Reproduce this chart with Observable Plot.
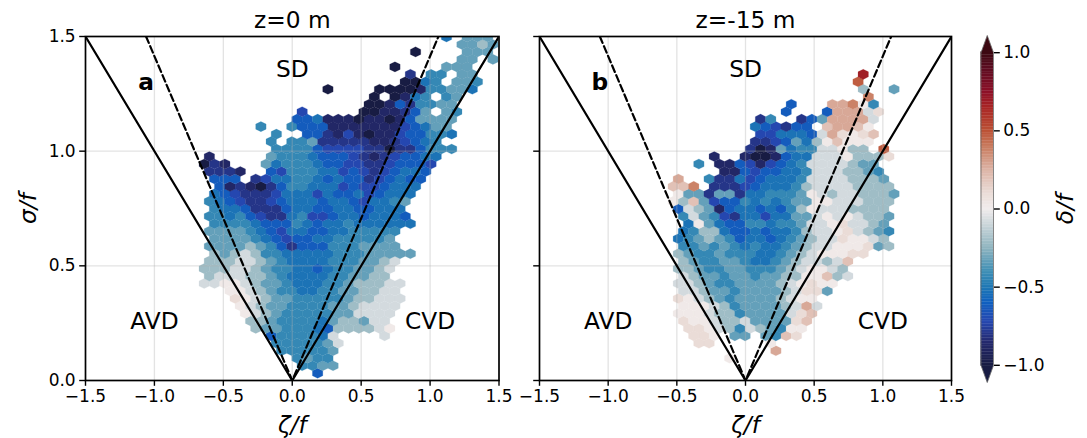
<!DOCTYPE html>
<html>
<head>
<meta charset="utf-8">
<script src="https://cdn.jsdelivr.net/npm/d3@7"></script>
<script src="https://cdn.jsdelivr.net/npm/@observablehq/plot@0.6"></script>
<style>
html,body{margin:0;padding:0;background:#fff;}
#chart{position:relative;width:1087px;height:438px;overflow:hidden;}
#chart svg{position:absolute;top:0;}
</style>
</head>
<body>
<div id="chart"></div>
<script>
// Hexbin cell readings. One string per row of the hex lattice, bottom to top; each letter is a δ/f level.
const surfaceRows = [
"............E",
"..........GGHH",
"..........GHGG",
"........GGGGGH",
"........GGGGGHJ",
".......EGGGGFJ....J",
"......IHHGGGFEIIIIJK",
".....IIHGGGGFHIIHJJ",
".....KJIHGGGGGHHJJJJ",
"....KJIHHGGGGHHIJJJJ",
"....LKJIHHGGGGGHIIJJJ",
"...KKJIHGGFFGGHHIIJJ",
".JJKKJIHHGFFFGGHIIIJJ",
".IJJJIIHGFFFFGGHHII",
".IIIJJIHGGFFEFGGHHIJ",
".IIIJJIHGFFFFGGGHHIJ",
"..IHIJIGGFFFFFGGGHHHHH",
".HHHHIHGECEEEGGGHHHH",
"..HHHHGFEDEEFFGGGGGH",
".HHHHGFEDFFEEFFGGGGG",
"..GGGGFEEEGFEFFGFFFFFF",
".GGFGEDCCFGDDEFFEFFFE",
"..GFFECCCEFFEEFFEEFFF",
".GFEDCCDEFFFEFFEDFFGH",
"..FEDCCCDFFFDFEEFDEFFF",
"..EBCBACEGGFFFDEDDEFFF",
"..EEE.CDFFGGFEFEECDEFEE",
".CCCB..EDGGGFFDEDCDEFFE",
".ACB...HFGGGFEEDDCCDEEED",
".B.....HGGGFEEEDCBCDEEFF",
"........GGGGEDDDDCCACCEGGG",
".......G.GGHCCCCCBBCDEFG",
"........G..EECBDBABBDEEGGF",
"......G..GEEEBBBBBBBDEFHH",
"..........EEFBBBABBABEHHHH",
"..........D.....AABBCEH.HG",
".................AABECGGHH",
".................A.ABFG.GH",
".............A....AAAABGGHHF",
"....................AAFG.HHG",
".....................C.GG.HH",
"...................A....HHH",
"..........................HH.H",
".....................A....HHH",
"..........................HHIH",
"........................F.HHH"
];
const deepRows = [
"",
"",
"........K",
"............N",
".....LL.....K",
"....LLK.HH.HGML",
"....LLKJIGJIHGKK",
"...LKKJIIJHHHHLM",
"...KKKJIIGHHHHJLM",
"...KKKJIGHHHHIJNJ",
"...LKJIHGHHHHIJKK",
"...JJIHHGHHHHIJLLH",
"...JJIHGGHHHHIJKLKK",
"...JIHHGHHGHHIIKKMIJ",
"...IIHGGHHGGGHIJKKJI",
"...IHGGHHGFFGHIJJIJM",
"...IHGGHGGGFFGHIJKKKLL",
"...GGHGHGFGFFGHIJJKKKLHI",
"...FGHIHGEFFEFGHIJJLKKJI",
"...FGIIFEEFEFFGIJJKLJIHG",
"....FKHFEEGGFGGHJJKLJJIH",
"...GJHGDCFFDFFHHJKJKJIIH",
"...EJIHBEFFEFEGIKJJJIIII",
"..KIMHDEEGFGFGHHKKJJJIII",
"...KHHCHHCFFGGGHKJIJJIIIH",
"..MMO.CCCDEFFFGIJJJJIIII",
"...N..GCCFDEFFFGJJJJIIIH",
".......BBEDEEFFGJJJIIHG",
".....G.BBEDBDEFGJJJJIHH",
"......B..BAABEFFJJJKIIIL",
"..........CABHFGGJJKII.P",
"..........CCDEHFIKMKKK",
"...........DDFFFEJNLKLM",
"..........FEDCEE.MNNMK",
"...........CG..CEHNNNNJ",
".............E...ENNNJL",
"..............E...NNOKG",
".....................O",
".....................I..H",
"....................P",
".....................R"
];
const levelCodes = "ABCDEFGHIJKLMNOPQR";
const levelValues = [-1,-.88,-.8,-.72,-.62,-.52,-.43,-.33,-.21,-.08,.02,.1,.2,.28,.38,.47,.58,.68];
const colorStops = [-1,-.85,-.72,-.6,-.5,-.4,-.25,-.1,0,.1,.25,.4,.5,.65,.75,.9,1];
const colorHexes = ["#181c43","#252a6f","#2547b0","#1060c0","#1f78b4","#3f8fb5","#8fb4bf","#cbd6da","#f1ecec","#eadcd7","#dcb3a5","#c87a5d","#bb5135","#a82424","#8c1028","#5c0c20","#3c0912"];
const axisTicks = [-1.5,-1,-.5,0,.5,1,1.5];
const sigmaTicks = [0,.5,1,1.5];
const barTicks = [-1,-.5,0,.5,1];
const barSteps = d3.range(-1,1.0001,.01);
const strainLine = [[-1.5,1.5],[0,0],[1.5,1.5]];
const okuboLine = [[-1.0607,1.5],[0,0],[1.0607,1.5]];
const regionLabels = [
  {t:"SD",x:0,y:1.355},{t:"AVD",x:-1,y:.255},{t:"CVD",x:1,y:.255}
];
// hex lattice in data units
const latticeZeta = .184, stepZeta = .0748, latticeSigma = .0318, stepSigma = .03258, centerColumn = 12;

function cells(rows){
  const out=[];
  rows.forEach((row,j)=>{
    [...row].forEach((ch,p)=>{
      const k=levelCodes.indexOf(ch);
      if(k<0) return;
      out.push({
        zeta: latticeZeta+stepZeta*(p-centerColumn+(j%2?.5:0)),
        sigma: latticeSigma+stepSigma*j,
        delta: levelValues[k]
      });
    });
  });
  return out;
}
const hexSymbol={draw(c){const w=5.2,h=5.05;c.moveTo(0,-h);c.lineTo(w,-h/2);c.lineTo(w,h/2);c.lineTo(0,h);c.lineTo(-w,h/2);c.lineTo(-w,-h/2);c.closePath();}};
const colorScale={type:"linear",domain:colorStops,range:colorHexes,clamp:true};
const font="'DejaVu Sans'";
const fmt=d=>d3.format(".1f")(d);

function panel({rows,title,letter,left,width,ml,mr,yLabels}){
  const marks=[
    Plot.dot(cells(rows),{x:"zeta",y:"sigma",fill:"delta",stroke:"delta",strokeWidth:.2,symbol:hexSymbol,clip:true}),
    Plot.ruleX(axisTicks.slice(1,-1),{stroke:"#b0b0b0",strokeOpacity:.35,strokeWidth:1.3}),
    Plot.ruleY(sigmaTicks.slice(1,-1),{stroke:"#b0b0b0",strokeOpacity:.35,strokeWidth:1.3}),
    Plot.line(strainLine,{stroke:"#000",strokeWidth:2.2,clip:true}),
    Plot.line(okuboLine,{stroke:"#000",strokeWidth:2.2,strokeDasharray:"7,3.5",clip:true}),
    Plot.text(regionLabels,{x:"x",y:"y",text:"t",fontSize:23.3,fill:"#000"}),
    Plot.text([letter],{x:[-1.06],y:[1.3],text:d=>d,fontSize:23.3,fontWeight:"bold",fill:"#000"}),
    Plot.text([title],{frameAnchor:"top",dy:-16,lineAnchor:"middle",text:d=>d,fontSize:23.3,fill:"#000"}),
    Plot.text(["ζ/f"],{frameAnchor:"bottom",dy:45,lineAnchor:"middle",text:d=>d,fontSize:23.3,fontStyle:"italic",fill:"#000"}),
    Plot.axisX({ticks:axisTicks,tickFormat:fmt,tickSize:5.8,tickPadding:4,strokeWidth:1.4,fontSize:17,label:null,color:"#000"}),
    Plot.axisY({ticks:sigmaTicks,tickFormat:yLabels?fmt:()=>"",tickSize:5.8,tickPadding:4,strokeWidth:1.4,fontSize:17,label:null,color:"#000"}),
    Plot.frame({stroke:"#000",strokeWidth:1.7})
  ];
  if(yLabels) marks.push(Plot.text(["σ/f"],{frameAnchor:"left",dx:-57,rotate:-90,textAnchor:"middle",lineAnchor:"middle",text:d=>d,fontSize:23.3,fontStyle:"italic",fill:"#000"}));
  const svg=Plot.plot({
    width,height:438,marginLeft:ml,marginRight:mr,marginTop:36,marginBottom:58,
    x:{domain:[-1.5,1.5]},y:{domain:[0,1.5]},color:colorScale,
    style:{fontFamily:font,fontSize:"14px",background:"transparent",overflow:"visible"},
    marks
  });
  svg.style.left=left+"px";
  return svg;
}

const chart=document.getElementById("chart");
chart.append(panel({rows:surfaceRows,title:"z=0 m",letter:"a",left:0,width:520,ml:85,mr:21.5,yLabels:true}));
chart.append(panel({rows:deepRows,title:"z=-15 m",letter:"b",left:520,width:450,ml:19,mr:19,yLabels:false}));

const bar=Plot.plot({
  width:117,height:438,marginLeft:10.5,marginRight:94,marginTop:35,marginBottom:56,
  x:{domain:[0,1],axis:null},y:{domain:[-1.11,1.11]},color:colorScale,
  style:{fontFamily:font,fontSize:"14px",background:"transparent",overflow:"visible"},
  marks:[
    Plot.rect(barSteps,{x1:0,x2:1,y1:d=>d-.006,y2:d=>d+.006,fill:d=>d}),
    Plot.line([[0,1],[.5,1.11],[1,1]],{fill:colorHexes[16],stroke:"none"}),
    Plot.line([[0,-1],[.5,-1.11],[1,-1]],{fill:colorHexes[0],stroke:"none"}),
    Plot.line([[0,1],[.5,1.11],[1,1],[1,-1],[.5,-1.11],[0,-1],[0,1]],{stroke:"#666",strokeWidth:.8}),
    Plot.axisY({anchor:"right",ticks:barTicks,tickFormat:fmt,tickSize:5.8,tickPadding:4,strokeWidth:1.4,fontSize:17,label:null,color:"#000"}),
    Plot.text(["δ/f"],{frameAnchor:"right",dx:72,rotate:-90,textAnchor:"middle",lineAnchor:"middle",text:d=>d,fontSize:23.3,fontStyle:"italic",fill:"#000"})
  ]
});
bar.style.left="970px";
chart.append(bar);
</script>
</body>
</html>
